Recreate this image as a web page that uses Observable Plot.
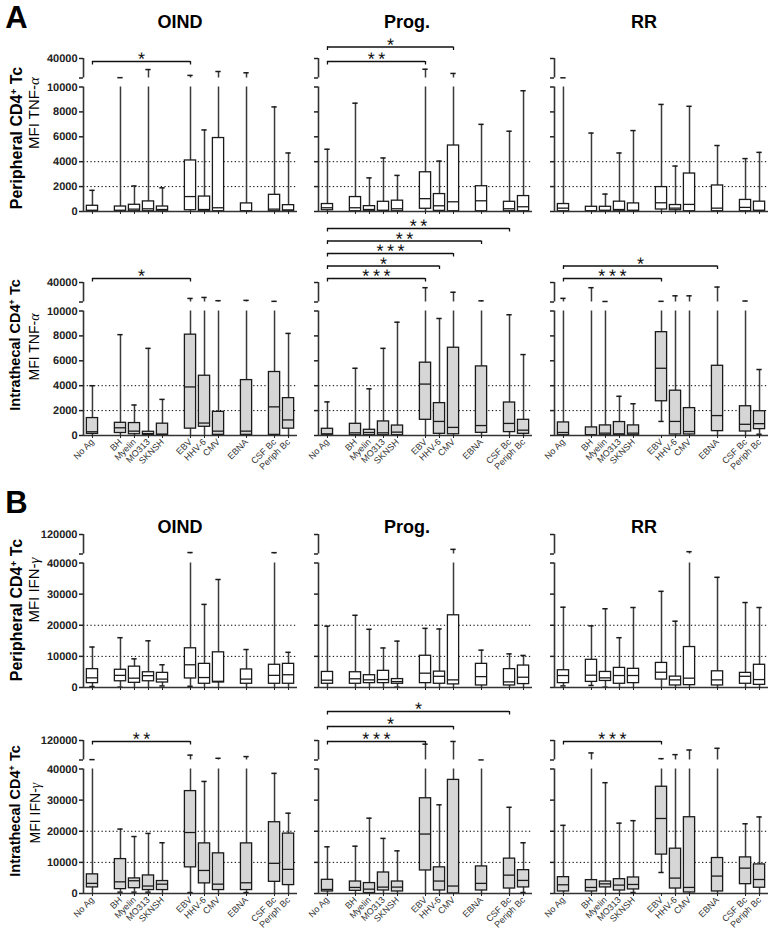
<!DOCTYPE html>
<html><head><meta charset="utf-8">
<script src="https://cdn.jsdelivr.net/npm/d3@7"></script>
<script src="https://cdn.jsdelivr.net/npm/@observablehq/plot@0.6"></script>
<style>
body{margin:0;background:#fff;font-family:"Liberation Sans",Arial,sans-serif;}
#wrap{position:relative;width:774px;height:936px;overflow:hidden;background:#fff;}
.abs{position:absolute;white-space:nowrap;color:#000;line-height:1;}
.letter{font-weight:bold;font-size:31px;transform:translate(-50%,-50%);}
.ctitle{font-weight:bold;font-size:18px;transform:translate(-50%,-50%);}
.ytitle{transform:translate(-50%,-50%) rotate(-90deg);}
.yb{font-weight:bold;}
sup{font-size:0.62em;line-height:0;vertical-align:0.55em;}
.gk{font-family:"Liberation Serif","DejaVu Serif",serif;font-style:italic;}
svg{position:absolute;text-rendering:geometricPrecision;}
</style></head><body><div id="wrap"></div>
<script>
// ---------- categories ----------
const antigens = ["No Ag","BH","Myelin","MO313","SKNSH","EBV","HHV-6","CMV","EBNA","CSF Bc","Periph Bc"];
const groupSizes = [1,4,3,1,2];
const cohorts = ["OIND","Prog.","RR"];

// ---------- values: [min, q1, median, q3, max] per antigen ----------
const tnfPeriphOIND = [[0,30,100,460,1700],[0,20,100,400,10500],[0,20,190,540,2050],[0,20,215,810,23000],[0,20,160,400,1900],[0,100,1200,4100,14000],[0,20,160,1200,6550],[0,20,300,5900,20000],[0,10,50,650,18000],[0,20,190,1340,8400],[0,20,130,510,4700]];
const tnfPeriphProg = [[0,100,300,600,5000],[0,20,300,1160,8700],[0,20,160,430,2700],[0,20,100,780,4300],[0,20,220,870,2900],[0,220,1030,3150,23500],[0,50,460,1400,4050],[0,20,780,5300,17000],[0,20,860,2030,7000],[0,20,220,780,6450],[0,20,380,1240,9700]];
const tnfPeriphRR = [[0,20,270,600,10300],[0,10,50,380,6300],[0,10,100,380,1400],[0,20,160,790,4700],[0,20,100,650,6500],[0,160,700,1960,8600],[0,100,270,520,3650],[0,20,570,3050,8450],[0,20,270,2090,5300],[0,20,330,930,4250],[0,20,100,790,4750]];
const tnfIntraOIND = [[0,130,300,1400,4000],[0,200,620,1020,8100],[0,100,350,1000,2450],[0,30,150,300,7000],[0,50,100,950,2900],[0,550,3900,8100,15500],[0,700,1000,4800,17000],[0,50,350,1900,12000],[0,50,350,4450,12500],[0,50,2300,5100,11000],[0,550,1250,3000,8200]];
const tnfIntraProg = [[0,20,135,540,2700],[0,20,215,940,5400],[0,20,240,460,3750],[0,20,215,1130,7000],[0,20,270,800,9100],[0,1260,4130,5850,32000],[0,135,1130,2600,9400],[0,100,650,7050,25000],[0,215,800,5550,11800],[0,270,970,2650,9700],[0,135,430,1260,6500]];
const tnfIntraRR = [[0,20,240,1050,15600],[0,10,50,650,32000],[0,20,190,810,10800],[0,20,135,1080,3150],[0,20,190,810,2550],[1130,2750,5400,8300,11000],[0,80,1130,3600,19500],[0,80,320,2200,19500],[0,350,1600,5600,33000],[0,320,900,2350,11500],[100,510,950,1950,5300]];
const ifnPeriphOIND = [[300,1400,3100,5900,13000],[100,2000,3900,5700,16000],[0,1500,3000,6700,9200],[0,2000,3800,4900,15000],[500,1600,2700,4700,7300],[400,2900,7300,12600,46000],[0,1200,3200,7600,26700],[0,1600,2000,11300,34700],[0,1200,2700,5800,12200],[0,1200,3900,7300,45500],[0,1200,4100,7600,11300]];
const ifnPeriphProg = [[0,1200,2350,5000,19700],[0,1200,2800,4900,23200],[0,1400,2450,3950,18700],[0,1400,2550,5350,12700],[100,1200,1900,2700,14900],[0,1400,4600,10200,19000],[0,1200,3600,5100,18800],[0,1000,2450,23200,59000],[0,650,3500,7600,12000],[0,650,1800,5900,10800],[0,1100,3300,7050,10300]];
const ifnPeriphRR = [[500,1400,3850,5550,25800],[650,1800,3950,8900,19800],[100,2100,3100,5000,25300],[0,1200,3850,6300,16000],[0,1400,3850,6000,25700],[0,2550,4900,7900,30900],[0,650,2450,3500,21300],[0,750,3000,13000,49500],[0,650,2450,5200,35400],[0,1200,3600,4700,27300],[0,850,2550,7300,25700]];
const ifnIntraOIND = [[0,1950,3250,6150,41500],[430,1400,3750,11050,20700],[430,1700,4100,4850,18300],[430,1100,2400,5800,19300],[0,1100,3000,4000,16300],[300,8400,19600,32900,60000],[0,3250,7400,16100,36000],[0,1100,3000,12900,47000],[300,1100,3450,16100,54000],[0,3750,9700,22900,38600],[0,2700,7750,19250,25800]];
const ifnIntraProg = [[0,650,1300,4400,15000],[0,860,1950,3850,15200],[0,100,1400,3350,24200],[0,970,2050,6750,17700],[0,650,2050,3850,13700],[0,7400,19100,30600,105000],[0,970,4000,8400,28500],[0,0,2400,36500,116000],[0,970,3250,8700,40300],[0,1600,5900,11200,27700],[320,1950,4200,7500,16300]];
const ifnIntraRR = [[0,650,2800,5250,21900],[0,650,1950,4300,69000],[0,1950,3100,3850,35600],[0,970,2700,4600,22600],[320,1300,2900,5150,23400],[6750,12500,24100,34300,45500],[0,1600,4950,14400,62000],[0,320,1950,24500,81000],[0,650,5600,11400,88000],[0,3000,8150,11600,22400],[0,1850,4500,9350,24600]];

// ---------- significance brackets ----------
const sigTnfPeriph = [[{from:"No Ag",to:"EBV",label:"*",level:0}],[{from:"No Ag",to:"EBV",label:"**",level:0},{from:"No Ag",to:"CMV",label:"*",level:1}],[]];
const sigTnfIntra = [[{from:"No Ag",to:"EBV",label:"*",level:0}],[{from:"No Ag",to:"EBV",label:"***",level:0},{from:"No Ag",to:"HHV-6",label:"*",level:1},{from:"No Ag",to:"CMV",label:"***",level:2},{from:"No Ag",to:"EBNA",label:"**",level:3},{from:"No Ag",to:"CSF Bc",label:"**",level:4}],[{from:"No Ag",to:"EBV",label:"***",level:0},{from:"No Ag",to:"EBNA",label:"*",level:1}]];
const sigIfnPeriph = [[],[],[]];
const sigIfnIntra = [[{from:"No Ag",to:"EBV",label:"**",level:0}],[{from:"No Ag",to:"EBV",label:"***",level:0},{from:"No Ag",to:"CMV",label:"*",level:1},{from:"No Ag",to:"CSF Bc",label:"*",level:2}],[{from:"No Ag",to:"EBV",label:"***",level:0}]];

// ---------- axis scales (broken axes) ----------
const tnfLowerTicks = [0,2000,4000,6000,8000,10000], tnfBreak = 10000, tnfTop = 40000, tnfRefs = [2000,4000];
const ifnLowerTicks = [0,10000,20000,30000,40000], ifnBreak = 40000, ifnTop = 120000, ifnRefs = [10000,20000];

// ---------- layout ----------
const L = 124.5, G = 9, U = 19.5, FH = L + G + U;
const colAxisX = [82.7, 318.3, 554];
const frameW = 214;
const xDomain = [-0.64, 14.64];
const rows = [
  {base:211, mt:45, mb:10, labels:false, bBase:150, bStep:14.5, intra:false, lower:tnfLowerTicks, brk:tnfBreak, top:tnfTop, refs:tnfRefs, data:[tnfPeriphOIND,tnfPeriphProg,tnfPeriphRR], sig:sigTnfPeriph},
  {base:435, mt:75, mb:45, labels:true, bBase:157, bStep:12.5, intra:true, lower:tnfLowerTicks, brk:tnfBreak, top:tnfTop, refs:tnfRefs, data:[tnfIntraOIND,tnfIntraProg,tnfIntraRR], sig:sigTnfIntra},
  {base:687, mt:20, mb:10, labels:false, bBase:152, bStep:15, intra:false, lower:ifnLowerTicks, brk:ifnBreak, top:ifnTop, refs:ifnRefs, data:[ifnPeriphOIND,ifnPeriphProg,ifnPeriphRR], sig:sigIfnPeriph},
  {base:893, mt:60, mb:43, labels:true, bBase:152, bStep:15, intra:true, lower:ifnLowerTicks, brk:ifnBreak, top:ifnTop, refs:ifnRefs, data:[ifnIntraOIND,ifnIntraProg,ifnIntraRR], sig:sigIfnIntra}
];

const positions = []; { let p = 0; groupSizes.forEach(n => { for (let k = 0; k < n; k++) positions.push(p++); p++; }); }
const posOf = Object.fromEntries(antigens.map((a,i) => [a, positions[i]]));

const wrap = document.getElementById("wrap");
const fmt = d3.format("d");

rows.forEach((row) => {
  const disp = v => v <= row.brk ? v / row.brk * L : L + G + (v - row.brk) / (row.top - row.brk) * U;
  const yTicks = row.lower.map(disp).concat([L + G, disp(row.top)]);
  const yLabels = new Map(row.lower.map(v => [disp(v), fmt(v)]).concat([[L + G, ""], [disp(row.top), fmt(row.top)]]));
  const axisSegs = [{y1:0, y2:L}, {y1:L + G, y2:FH}];
  row.data.forEach((vals, c) => {
    const boxes = vals.map((d,i) => ({name:antigens[i], x:positions[i], min:d[0], q1:d[1], med:d[2], q3:d[3], max:d[4]}));
    const bk = row.sig[c].map(b => ({x1:posOf[b.from], x2:posOf[b.to], y:row.bBase + b.level * row.bStep, label:b.label.split("").join("\u2009")}));
    const bkEnds = bk.flatMap(b => [{x:b.x1, y:b.y}, {x:b.x2, y:b.y}]);
    const ml = c === 0 ? 52 : 12, mr = 6;
    const hw = 0.4, cw = 0.19;
    const ink = "#1a1a1a", wh = "#3a3a3a";
    const svg = Plot.plot({
      width: ml + frameW + mr, height: row.mt + FH + row.mb,
      marginLeft: ml, marginRight: mr, marginTop: row.mt, marginBottom: row.mb,
      x: {domain: xDomain, label: null},
      y: {domain: [0, FH], label: null},
      style: {fontFamily: "Liberation Sans, Arial, sans-serif", background: "transparent", overflow: "visible", color: "#222"},
      marks: [
        Plot.ruleY(row.refs.map(disp), {stroke: "#000", strokeWidth: 1, strokeDasharray: "1.3,2.4"}),
        Plot.ruleX(boxes, {x: "x", y1: d => disp(d.min), y2: d => disp(Math.min(d.max, row.brk)), stroke: wh, strokeWidth: 1.5}),
        Plot.ruleX(boxes.filter(d => d.max > row.brk), {x: "x", y1: L + G, y2: d => disp(d.max), stroke: wh, strokeWidth: 1.5}),
        Plot.ruleY(boxes, {y: d => disp(d.max), x1: d => d.x - cw, x2: d => d.x + cw, stroke: ink, strokeWidth: 1.5}),
        Plot.ruleY(boxes.filter(d => d.min > 0), {y: d => disp(d.min), x1: d => d.x - cw, x2: d => d.x + cw, stroke: ink, strokeWidth: 1.5}),
        Plot.rectY(boxes, {x1: d => d.x - hw, x2: d => d.x + hw, y1: d => disp(d.q1), y2: d => disp(d.q3), fill: row.intra ? "#d6d6d6" : "#fff", stroke: ink, strokeWidth: 1.3}),
        Plot.ruleY(boxes, {y: d => disp(d.med), x1: d => d.x - hw, x2: d => d.x + hw, stroke: ink, strokeWidth: 1.3}),
        Plot.ruleY([0], {stroke: "#333", strokeWidth: 1.6}),
        Plot.ruleX(axisSegs, {x: xDomain[0], y1: "y1", y2: "y2", stroke: "#333", strokeWidth: 1.6}),
        Plot.axisY({ticks: yTicks, tickFormat: t => c === 0 ? yLabels.get(t) : "", tickSize: 4, tickPadding: 2, fontSize: 11, fontWeight: "bold", label: null, strokeWidth: 1.5}),
        Plot.axisX({ticks: positions, tickFormat: t => row.labels ? antigens[positions.indexOf(t)] : "", tickSize: 3, tickPadding: 2, tickRotate: -45, fontSize: 9, label: null, fill: "#333"}),
        Plot.ruleY(bk, {y: "y", x1: "x1", x2: "x2", stroke: "#111", strokeWidth: 1.3}),
        Plot.ruleX(bkEnds, {x: "x", y1: d => d.y - 3.5, y2: "y", stroke: "#111", strokeWidth: 1.3}),
        Plot.text(bk, {x: d => (d.x1 + d.x2) / 2, y: "y", text: "label", fontSize: 18, lineAnchor: "middle", dy: -2, fill: "#111"})
      ]
    });
    svg.querySelectorAll('g[aria-label="y-axis tick label"]').forEach(g => g.setAttribute("font-weight", "bold"));
    svg.style.left = (colAxisX[c] - ml) + "px";
    svg.style.top = (row.base - FH - row.mt) + "px";
    wrap.appendChild(svg);
  });
});

// ---------- text annotations ----------
function addText(html, cls, x, y, extra) {
  const d = document.createElement("div");
  d.className = "abs " + cls;
  d.innerHTML = html;
  d.style.left = x + "px";
  d.style.top = y + "px";
  if (extra) Object.assign(d.style, extra);
  wrap.appendChild(d);
}
addText("A", "letter", 16.5, 17);
addText("B", "letter", 16.5, 501.5);
const titleX = [180, 407, 644];
cohorts.forEach((t,i) => { addText(t, "ctitle", titleX[i], 21.5); addText(t, "ctitle", titleX[i], 527); });
addText('Peripheral CD4<sup>+</sup> Tc', "ytitle yb", 16.5, 138, {fontSize:"16px"});
addText('MFI TNF-<span class="gk">α</span>', "ytitle", 33.5, 113, {fontSize:"15px"});
addText('Intrathecal CD4<sup>+</sup> Tc', "ytitle yb", 14.5, 345, {fontSize:"14.5px"});
addText('MFI TNF-<span class="gk">α</span>', "ytitle", 34, 347, {fontSize:"14px"});
addText('Peripheral CD4<sup>+</sup> Tc', "ytitle yb", 16.5, 610, {fontSize:"16px"});
addText('MFI IFN-<span class="gk">γ</span>', "ytitle", 33.5, 590, {fontSize:"15px"});
addText('Intrathecal CD4<sup>+</sup> Tc', "ytitle yb", 15, 811, {fontSize:"14.5px"});
addText('MFI IFN-<span class="gk">γ</span>', "ytitle", 35, 813, {fontSize:"14px"});
</script>
</body></html>
